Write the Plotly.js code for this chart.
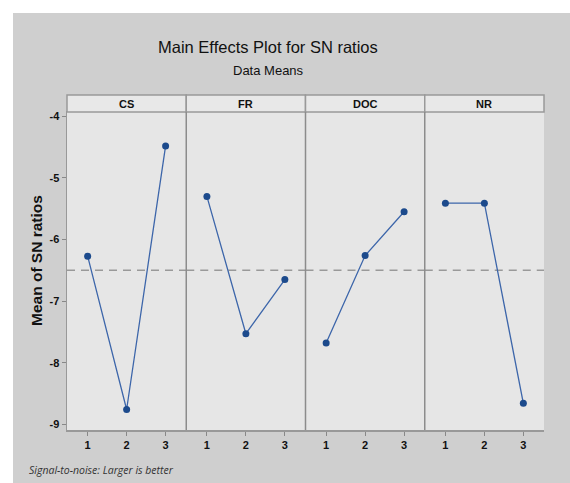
<!DOCTYPE html>
<html><head><meta charset="utf-8">
<script src="https://cdn.plot.ly/plotly-3.0.1.min.js"></script>
<style>
html,body{margin:0;padding:0;background:#ffffff;}
#chart{position:absolute;left:13px;top:13px;width:557px;height:470px;}
</style></head>
<body><div id="chart"></div>
<script>
const factors = ["CS", "FR", "DOC", "NR"];
const levels = [1, 2, 3];
const csMeans = [-6.27, -8.76, -4.48];
const frMeans = [-5.30, -7.53, -6.65];
const docMeans = [-7.68, -6.26, -5.55];
const nrMeans = [-5.41, -5.41, -8.66];
const overallMean = -6.50;
const yTicks = [-4, -5, -6, -7, -8, -9];
const yTickLabels = ["-4", "-5", "-6", "-7", "-8", "-9"];

const series = [csMeans, frMeans, docMeans, nrMeans];
const traces = series.map((vals, i) => ({
  x: levels, y: vals, type: 'scatter', mode: 'lines+markers',
  xaxis: i === 0 ? 'x' : 'x' + (i + 1), yaxis: 'y',
  line: {color: '#3d66aa', width: 1.3},
  marker: {color: '#1c4a8c', size: 7},
  showlegend: false, hoverinfo: 'skip'
}));

const plotW = 477, plotH = 318;
const layout = {
  width: 557, height: 470,
  paper_bgcolor: '#cfcfcf', plot_bgcolor: '#e6e6e6',
  margin: {l: 54, r: 26, t: 99, b: 53},
  font: {family: 'Liberation Sans, Arial, sans-serif', color: '#111'},
  showlegend: false,
  yaxis: {range: [-9.093, -3.93], tickvals: yTicks, ticktext: yTickLabels.map(t => '<b>' + t + '</b>'),
    ticks: 'outside', ticklen: 4, tickcolor: '#888',
    showgrid: false, zeroline: false, showline: true, linecolor: '#999', linewidth: 1.5,
    tickfont: {size: 11, family: 'Liberation Sans, Arial, sans-serif'}},
  shapes: [], annotations: []
};
factors.forEach((f, i) => {
  const key = i === 0 ? 'xaxis' : 'xaxis' + (i + 1);
  layout[key] = {domain: [i * 0.25, (i + 1) * 0.25], range: [0.47, 3.53], tickvals: levels,
    ticktext: levels.map(l => '<b>' + l + '</b>'),
    ticks: 'outside', ticklen: 4, tickcolor: '#888', showgrid: false, zeroline: false,
    showline: true, linecolor: '#999', linewidth: 1.5, mirror: true, anchor: 'y',
    tickfont: {size: 11, family: 'Liberation Sans, Arial, sans-serif'}};
  const xr = i === 0 ? 'x' : 'x' + (i + 1);
  layout.shapes.push({type: 'line', xref: xr + ' domain', yref: 'y', x0: 0, x1: 1, y0: overallMean, y1: overallMean,
    line: {color: '#999', width: 1.5, dash: '8px,6px'}, layer: 'below'});
  layout.shapes.push({type: 'rect', xref: 'paper', yref: 'paper', x0: i * 0.25, x1: (i + 1) * 0.25, y0: 1, y1: 1 + 17 / plotH,
    fillcolor: '#e8e8e8', line: {color: '#999', width: 1.5}});
  if (i > 0) {
    layout.shapes.push({type: 'line', xref: 'paper', yref: 'paper', x0: i * 0.25, x1: i * 0.25, y0: 0, y1: 1,
      line: {color: '#8c8c8c', width: 1.5}});
  }
  layout.annotations.push({text: '<b>' + f + '</b>', xref: 'paper', yref: 'paper', x: i * 0.25 + 0.125, y: 1 + 8.5 / plotH,
    showarrow: false, xanchor: 'center', yanchor: 'middle',
    font: {size: 11, family: 'Liberation Sans, Arial, sans-serif', color: '#111'}});
});
layout.annotations.push({text: 'Main Effects Plot for SN ratios', xref: 'paper', yref: 'paper',
  x: 201 / plotW, y: 1 + 65 / plotH, showarrow: false, xanchor: 'center', yanchor: 'middle',
  font: {size: 16.5, family: 'Liberation Sans, Arial, sans-serif', color: '#111'}});
layout.annotations.push({text: 'Data Means', xref: 'paper', yref: 'paper',
  x: 201 / plotW, y: 1 + 42 / plotH, showarrow: false, xanchor: 'center', yanchor: 'middle',
  font: {size: 13, family: 'Liberation Sans, Arial, sans-serif', color: '#111'}});
layout.annotations.push({text: '<b>Mean of SN ratios</b>', xref: 'paper', yref: 'paper',
  x: -31 / plotW, y: (417 - 248) / plotH, showarrow: false, xanchor: 'center', yanchor: 'middle', textangle: -90,
  font: {size: 15.5, family: 'Liberation Sans, Arial, sans-serif', color: '#111'}});
layout.annotations.push({text: '<i>Signal-to-noise: Larger is better</i>', xref: 'paper', yref: 'paper',
  x: -40 / plotW, y: -40 / plotH, showarrow: false, xanchor: 'left', yanchor: 'middle',
  font: {size: 10.5, family: 'Open Sans, sans-serif', color: '#333'}});

Plotly.newPlot('chart', traces, layout, {staticPlot: true, displayModeBar: false});
</script></body></html>
